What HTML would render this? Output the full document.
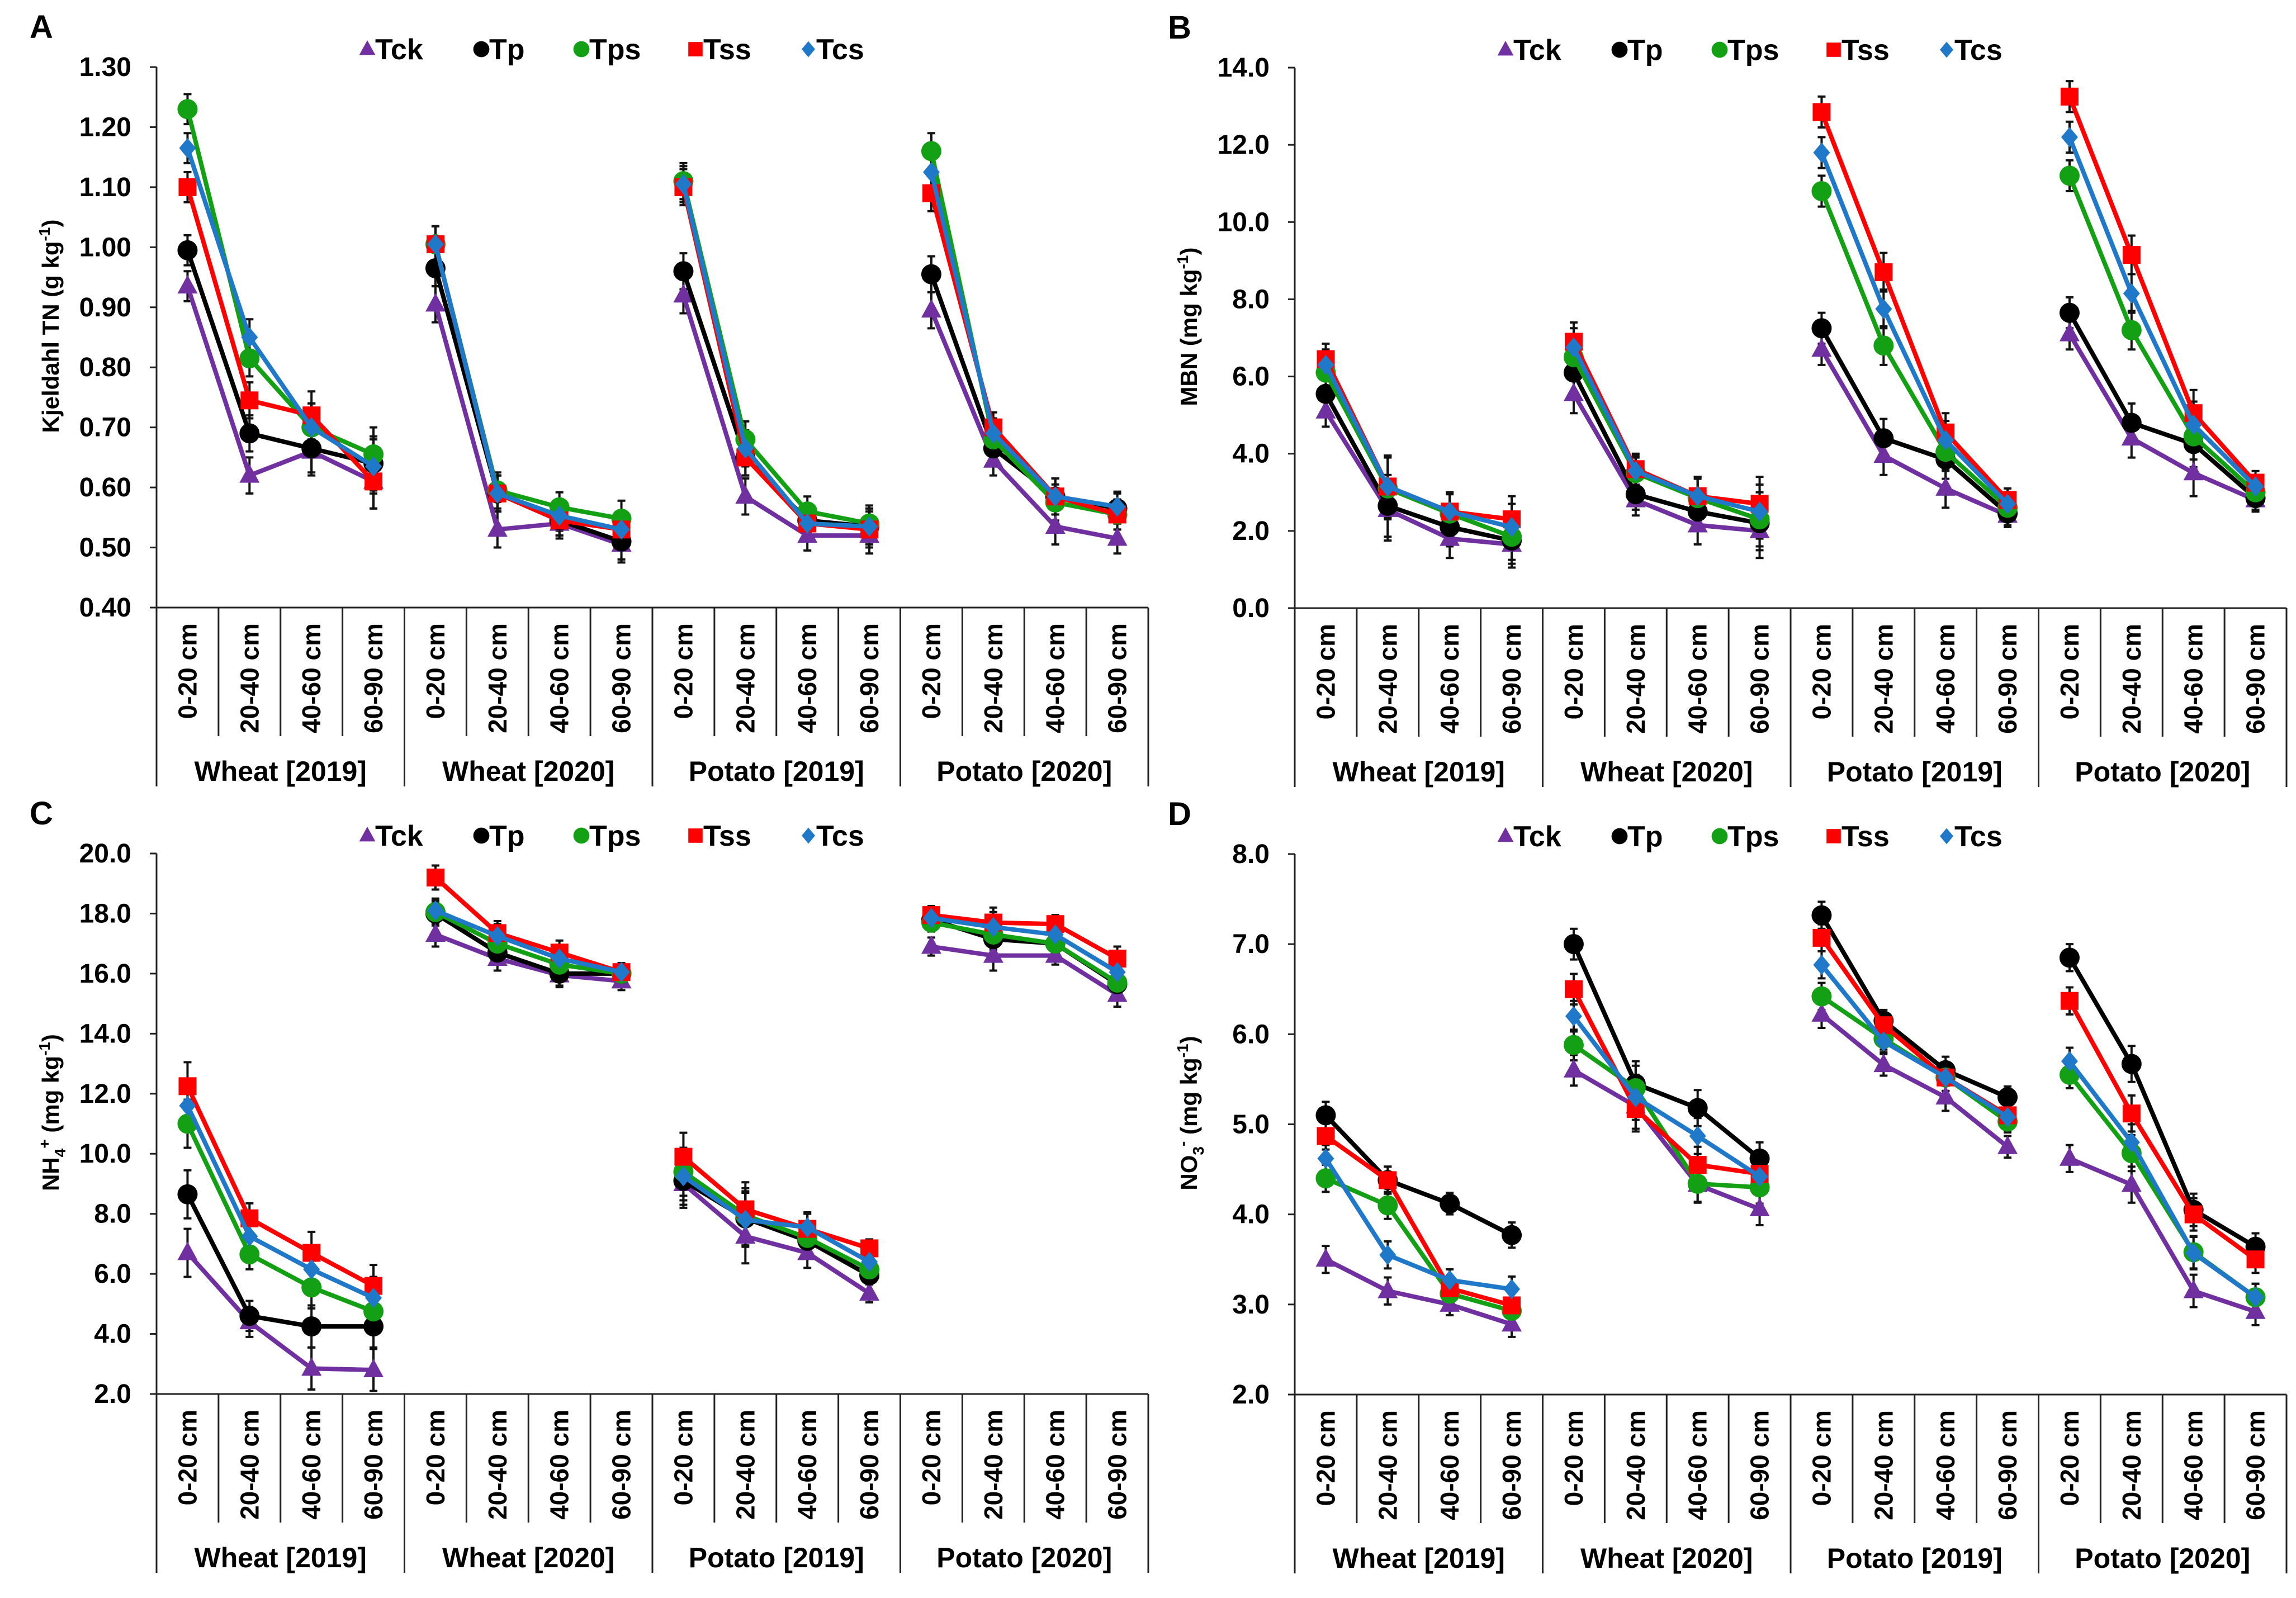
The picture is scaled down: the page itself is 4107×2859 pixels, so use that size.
<!DOCTYPE html>
<html><head><meta charset="utf-8">
<style>
html,body{margin:0;padding:0;background:#fff;}
svg{display:block;}
text{font-family:"Liberation Sans Narrow","Liberation Sans",sans-serif;font-weight:bold;fill:#000;}
.wide{font-family:"Liberation Sans",sans-serif;}
</style></head>
<body>
<svg id="chart" xmlns="http://www.w3.org/2000/svg" width="4107" height="2859" viewBox="0 0 4107 2859"></svg>
<script>
var categories = ["0-20 cm","20-40 cm","40-60 cm","60-90 cm"];
var groups = ["Wheat [2019]","Wheat [2020]","Potato [2019]","Potato [2020]"];
var seriesNames = ["Tck","Tp","Tps","Tss","Tcs"];

// Panel A: Kjeldahl TN (16 points per series: 4 groups x 4 depths)
var tnTck = [0.935,0.62,0.66,0.61, 0.905,0.53,0.54,0.505, 0.92,0.585,0.52,0.52, 0.895,0.645,0.535,0.515];
var tnTp  = [0.995,0.69,0.665,0.64, 0.965,0.59,0.545,0.51, 0.96,0.65,0.545,0.535, 0.955,0.665,0.585,0.565];
var tnTps = [1.23,0.815,0.70,0.655, 1.005,0.595,0.567,0.548, 1.11,0.68,0.56,0.54, 1.16,0.68,0.575,0.555];
var tnTss = [1.10,0.745,0.72,0.61, 1.005,0.59,0.545,0.53, 1.10,0.65,0.54,0.53, 1.09,0.70,0.585,0.555];
var tnTcs = [1.165,0.85,0.70,0.635, 1.005,0.59,0.553,0.53, 1.105,0.665,0.54,0.535, 1.125,0.69,0.585,0.568];
var tnErr = [0.025,0.03,0.04,0.045, 0.03,0.03,0.025,0.03, 0.03,0.03,0.025,0.03, 0.03,0.025,0.03,0.025];
var tnTicks = ["0.40","0.50","0.60","0.70","0.80","0.90","1.00","1.10","1.20","1.30"];

// Panel B: MBN
var mbTck = [5.1,2.55,1.8,1.65, 5.55,2.8,2.15,2.0, 6.7,3.95,3.1,2.4, 7.1,4.4,3.5,2.8];
var mbTp  = [5.55,2.65,2.1,1.75, 6.1,2.95,2.5,2.2, 7.25,4.4,3.85,2.45, 7.65,4.8,4.25,2.85];
var mbTps = [6.1,3.1,2.45,1.85, 6.5,3.5,2.85,2.3, 10.8,6.8,4.05,2.6, 11.2,7.2,4.45,3.0];
var mbTss = [6.45,3.15,2.5,2.3, 6.9,3.6,2.9,2.7, 12.85,8.7,4.55,2.8, 13.25,9.15,5.05,3.25];
var mbTcs = [6.3,3.15,2.5,2.1, 6.75,3.55,2.9,2.5, 11.8,7.75,4.35,2.7, 12.2,8.15,4.75,3.15];
var mbErr = [0.4,0.8,0.5,0.6, 0.5,0.4,0.5,0.7, 0.4,0.5,0.5,0.3, 0.4,0.5,0.6,0.3];
var mbTicks = ["0.0","2.0","4.0","6.0","8.0","10.0","12.0","14.0"];

// Panel C: NH4+
var nhTck = [6.7,4.4,2.85,2.8, 17.3,16.5,15.95,15.75, 9.0,7.25,6.7,5.35, 16.9,16.6,16.6,15.3];
var nhTp  = [8.65,4.6,4.25,4.25, 18.0,16.7,16.0,16.0, 9.1,7.85,7.1,5.95, 17.8,17.15,17.0,15.65];
var nhTps = [11.0,6.65,5.55,4.75, 18.05,17.0,16.3,16.0, 9.4,7.95,7.2,6.15, 17.7,17.3,17.0,15.7];
var nhTss = [12.25,7.85,6.7,5.6, 19.2,17.35,16.7,16.05, 9.9,8.15,7.5,6.85, 17.95,17.7,17.65,16.5];
var nhTcs = [11.6,7.25,6.15,5.2, 18.1,17.25,16.5,16.05, 9.25,7.8,7.55,6.4, 17.85,17.55,17.3,16.05];
var nhErr = [0.8,0.5,0.7,0.7, 0.4,0.4,0.4,0.3, 0.8,0.9,0.5,0.3, 0.3,0.5,0.3,0.4];
var nhTicks = ["2.0","4.0","6.0","8.0","10.0","12.0","14.0","16.0","18.0","20.0"];

// Panel D: NO3-
var noTck = [3.5,3.15,3.0,2.78, 5.6,5.2,4.33,4.06, 6.22,5.66,5.3,4.75, 4.62,4.33,3.15,2.92];
var noTp  = [5.1,4.38,4.12,3.77, 7.0,5.45,5.18,4.62, 7.32,6.15,5.6,5.3, 6.85,5.67,4.05,3.64];
var noTps = [4.4,4.1,3.12,2.93, 5.88,5.4,4.34,4.3, 6.42,5.95,5.52,5.03, 5.55,4.68,3.58,3.08];
var noTss = [4.87,4.38,3.18,2.99, 6.5,5.17,4.55,4.45, 7.07,6.1,5.52,5.1, 6.37,5.12,4.0,3.5];
var noTcs = [4.62,3.55,3.27,3.17, 6.2,5.3,4.87,4.42, 6.77,5.92,5.52,5.08, 5.7,4.8,3.57,3.08];
var noErr = [0.15,0.15,0.12,0.14, 0.17,0.25,0.2,0.18, 0.15,0.12,0.15,0.12, 0.15,0.2,0.18,0.15];
var noTicks = ["2.0","3.0","4.0","5.0","6.0","7.0","8.0"];

var NS = "http://www.w3.org/2000/svg";
var svg = document.getElementById("chart");
var colors = ["#7030A0","#000000","#14A014","#FF0000","#1F78C8"];
var shapes = ["tri","circ","circ","sq","dia"];
var PW = 1774, PH = 967;

function mk(tag, attrs, parent){
  var e = document.createElementNS(NS, tag);
  for (var k in attrs) e.setAttribute(k, attrs[k]);
  (parent||svg).appendChild(e);
  return e;
}
function marker(shape, x, y, s, color, parent){
  var e;
  if (shape==="circ") e = mk("circle",{cx:x,cy:y,r:18*s,fill:color},parent);
  else if (shape==="sq") e = mk("rect",{x:x-16*s,y:y-16*s,width:32*s,height:32*s,fill:color},parent);
  else if (shape==="tri") e = mk("polygon",{points:(x)+","+(y-20*s)+" "+(x+18*s)+","+(y+13*s)+" "+(x-18*s)+","+(y+13*s),fill:color},parent);
  else e = mk("polygon",{points:x+","+(y-18*s)+" "+(x+15*s)+","+y+" "+x+","+(y+18*s)+" "+(x-15*s)+","+y,fill:color},parent);
  return e;
}

function panel(letter, x0, y0, vmin, vmax, ticks, series, err, titleParts, key){
  var g = mk("g",{});
  
  
  function yS(v){ return y0 + PH - (v - vmin)/(vmax - vmin)*PH; }
  function xS(i){ return x0 + (i + 0.5)*PW/16; }

  var lab = mk("text",{x:x0-227,y:y0-52,"font-size":58,"class":"wide"},g);
  lab.textContent = letter;
  
  

  // axes
  var ax = mk("line",{x1:x0,y1:y0,x2:x0,y2:y0+PH+320,stroke:"#222","stroke-width":3},g);
  
  
  var xa = mk("line",{x1:x0,y1:y0+PH,x2:x0+PW,y2:y0+PH,stroke:"#222","stroke-width":3},g);
  
  
  mk("line",{x1:x0+PW,y1:y0+PH,x2:x0+PW,y2:y0+PH+320,stroke:"#222","stroke-width":3},g);
  for (var c=1;c<16;c++){
    var xx = x0 + c*PW/16;
    var len = (c%4===0) ? 320 : 230;
    mk("line",{x1:xx,y1:y0+PH,x2:xx,y2:y0+PH+len,stroke:"#222","stroke-width":3},g);
  }
  // y ticks
  for (var t=0;t<ticks.length;t++){
    var v = parseFloat(ticks[t]);
    var yy = yS(v);
    mk("line",{x1:x0-12,y1:yy,x2:x0,y2:yy,stroke:"#222","stroke-width":3},g);
    var tl = mk("text",{x:x0-45,y:yy+16,"font-size":48,"text-anchor":"end"},g);
    tl.textContent = ticks[t];
    
    
  }
  // category labels
  for (var i=0;i<16;i++){
    var cx = xS(i);
    var cl = mk("text",{x:0,y:0,"font-size":46,"text-anchor":"end","class":"wide",transform:"translate("+(cx+16)+","+(y0+PH+28)+") rotate(-90)"},g);
    cl.textContent = categories[i%4];
    
    
  }
  for (var gi=0;gi<4;gi++){
    var gl = mk("text",{x:x0+(gi+0.5)*PW/4,y:y0+PH+310,"font-size":50,"text-anchor":"middle"},g);
    gl.textContent = groups[gi];
    
    
  }
  // y title
  var yt = mk("text",{x:0,y:0,"font-size":42,"text-anchor":"middle","class":"wide",transform:"translate("+(x0-175)+","+(y0+PH/2-20)+") rotate(-90)"},g);
  yt.innerHTML = titleParts;
  
  

  // legend
  var lx = [377,581,760,964,1166];
  for (var s=0;s<5;s++){
    var lg = mk("g",{},g);
    
    
    marker(shapes[s], x0+lx[s], y0-32, 0.8, colors[s], lg);
    var lt = mk("text",{x:x0+lx[s]+14,y:y0-14,"font-size":52},lg);
    lt.textContent = seriesNames[s];
  }

  // error bars
  for (var s2=0;s2<5;s2++){
    for (var p=0;p<16;p++){
      var px = xS(p), v1 = series[s2][p], e = err[p];
      var eb = mk("path",{d:"M"+px+","+yS(v1-e)+"V"+yS(v1+e)+"M"+(px-7)+","+yS(v1-e)+"h14M"+(px-7)+","+yS(v1+e)+"h14",stroke:"#111","stroke-width":4,fill:"none"},g);
      
      
    }
  }
  // series
  for (var s3=0;s3<5;s3++){
    var sg = mk("g",{},g);
    
    
    for (var gi2=0;gi2<4;gi2++){
      var pts = [];
      for (var k=0;k<4;k++){ var idx=gi2*4+k; pts.push(xS(idx)+","+yS(series[s3][idx])); }
      var ln = mk("polyline",{points:pts.join(" "),fill:"none",stroke:colors[s3],"stroke-width":8,"stroke-linejoin":"round"},sg);
      
      
    }
    for (var q=0;q<16;q++){
      var m = marker(shapes[s3], xS(q), yS(series[s3][q]), 1, colors[s3], sg);
      
      
    }
  }
}

panel("A", 280, 120, 0.40, 1.30, tnTicks, [tnTck,tnTp,tnTps,tnTss,tnTcs], tnErr,
  'Kjeldahl TN (g kg<tspan dy="-16" font-size="28">-1</tspan><tspan dy="16">)</tspan>', "kjeldahl-tn");
panel("B", 2316, 121, 0, 14, mbTicks, [mbTck,mbTp,mbTps,mbTss,mbTcs], mbErr,
  'MBN (mg kg<tspan dy="-16" font-size="28">-1</tspan><tspan dy="16">)</tspan>', "mbn");
panel("C", 280, 1527, 2, 20, nhTicks, [nhTck,nhTp,nhTps,nhTss,nhTcs], nhErr,
  'NH<tspan dy="12" font-size="28">4</tspan><tspan dy="-28" font-size="28">+</tspan><tspan dy="16"> (mg kg</tspan><tspan dy="-16" font-size="28">-1</tspan><tspan dy="16">)</tspan>', "nh4");
panel("D", 2316, 1528, 2, 8, noTicks, [noTck,noTp,noTps,noTss,noTcs], noErr,
  'NO<tspan dy="12" font-size="28">3</tspan><tspan dy="-28" font-size="28">-</tspan><tspan dy="16"> (mg kg</tspan><tspan dy="-16" font-size="28">-1</tspan><tspan dy="16">)</tspan>', "no3");
</script>
</body></html>
